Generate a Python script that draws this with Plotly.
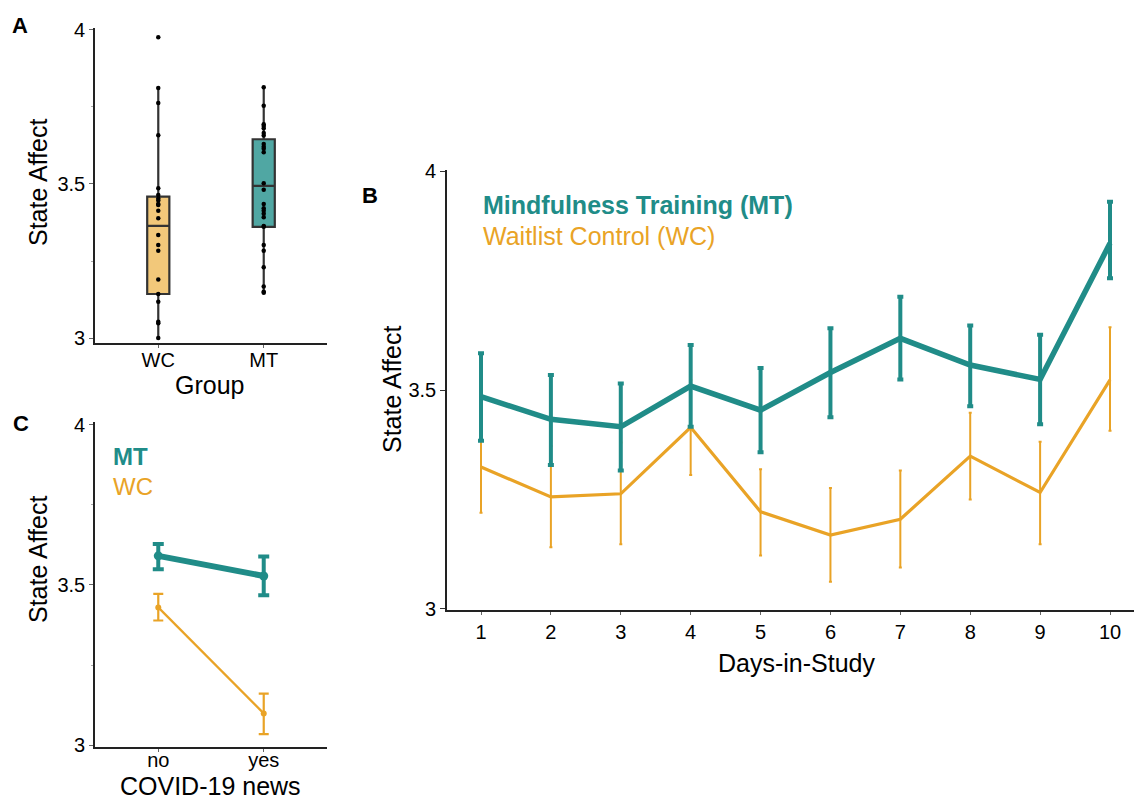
import plotly.graph_objects as go

# ---------------- data ----------------
groups = ["WC", "MT"]
wc_points = [3.976, 3.811, 3.763, 3.658, 3.486, 3.464, 3.453, 3.446, 3.435, 3.432, 3.413,
             3.389, 3.334, 3.302, 3.283, 3.19, 3.143, 3.118, 3.053, 3.048, 3.0]
mt_points = [3.814, 3.754, 3.694, 3.688, 3.681, 3.665, 3.657, 3.630, 3.621, 3.614, 3.603,
             3.502, 3.481, 3.435, 3.421, 3.413, 3.403, 3.392, 3.364, 3.361, 3.302, 3.283,
             3.23, 3.167, 3.150, 3.147]
# box stats: lowerfence, q1, median, q3, upperfence
wc_box = [3.0, 3.143, 3.364, 3.459, 3.811]
mt_box = [3.147, 3.361, 3.494, 3.645, 3.814]

days = [1, 2, 3, 4, 5, 6, 7, 8, 9, 10]
mt_mean = [3.485, 3.433, 3.416, 3.509, 3.454, 3.540, 3.618, 3.557, 3.524, 3.835]
mt_hi = [3.584, 3.534, 3.515, 3.603, 3.550, 3.641, 3.713, 3.647, 3.626, 3.930]
mt_lo = [3.384, 3.329, 3.316, 3.416, 3.358, 3.438, 3.524, 3.463, 3.422, 3.755]
wc_mean = [3.324, 3.256, 3.263, 3.415, 3.222, 3.169, 3.205, 3.349, 3.266, 3.523]
wc_hi = [3.428, 3.372, 3.380, 3.523, 3.319, 3.276, 3.316, 3.448, 3.382, 3.643]
wc_lo = [3.220, 3.141, 3.148, 3.306, 3.122, 3.062, 3.095, 3.250, 3.148, 3.407]

news = ["no", "yes"]
c_mt_mean = [3.591, 3.528]
c_mt_hi = [3.628, 3.589]
c_mt_lo = [3.549, 3.468]
c_wc_mean = [3.430, 3.099]
c_wc_hi = [3.472, 3.161]
c_wc_lo = [3.389, 3.034]

y_ticks = [3, 3.5, 4]
y_ticktext = ["3", "3.5", "4"]

# ---------------- styles ----------------
TEAL = "#208C88"
ORANGE = "#E9A326"
WC_FILL = "#F2C87A"
MT_FILL = "#50A7A3"
FONT = "Liberation Sans, Arial, Helvetica, sans-serif"
W, H = 1134, 801


def px_x(p):
    return p / W


def px_y(p):
    return 1 - p / H


fig = go.Figure()

# ---- Panel A: boxes ----
for g, stats, fill in [("WC", wc_box, WC_FILL), ("MT", mt_box, MT_FILL)]:
    fig.add_trace(go.Box(
        x=[g], lowerfence=[stats[0]], q1=[stats[1]], median=[stats[2]],
        q3=[stats[3]], upperfence=[stats[4]],
        fillcolor=fill, line=dict(color="#333333", width=2.2),
        whiskerwidth=0, width=0.21, boxpoints=False, showlegend=False,
        xaxis="x", yaxis="y", hoverinfo="skip"))
for g, pts in [("WC", wc_points), ("MT", mt_points)]:
    fig.add_trace(go.Scatter(
        x=[g] * len(pts), y=pts, mode="markers",
        marker=dict(color="black", size=4.5), showlegend=False,
        xaxis="x", yaxis="y", hoverinfo="skip"))

# ---- Panel B ----
fig.add_trace(go.Scatter(
    x=days, y=wc_mean, mode="lines", line=dict(color=ORANGE, width=3.2),
    error_y=dict(type="data", symmetric=False,
                 array=[h - m for h, m in zip(wc_hi, wc_mean)],
                 arrayminus=[m - l for m, l in zip(wc_mean, wc_lo)],
                 color=ORANGE, thickness=2, width=1.5),
    showlegend=False, xaxis="x2", yaxis="y2"))
fig.add_trace(go.Scatter(
    x=days, y=mt_mean, mode="lines", line=dict(color=TEAL, width=5.5),
    error_y=dict(type="data", symmetric=False,
                 array=[h - m for h, m in zip(mt_hi, mt_mean)],
                 arrayminus=[m - l for m, l in zip(mt_mean, mt_lo)],
                 color=TEAL, thickness=4, width=3),
    showlegend=False, xaxis="x2", yaxis="y2"))

# ---- Panel C ----
fig.add_trace(go.Scatter(
    x=news, y=c_wc_mean, mode="lines+markers", line=dict(color=ORANGE, width=2.2),
    marker=dict(color=ORANGE, size=6),
    error_y=dict(type="data", symmetric=False,
                 array=[h - m for h, m in zip(c_wc_hi, c_wc_mean)],
                 arrayminus=[m - l for m, l in zip(c_wc_mean, c_wc_lo)],
                 color=ORANGE, thickness=2.2, width=5),
    showlegend=False, xaxis="x3", yaxis="y3"))
fig.add_trace(go.Scatter(
    x=news, y=c_mt_mean, mode="lines+markers", line=dict(color=TEAL, width=6),
    marker=dict(color=TEAL, size=9),
    error_y=dict(type="data", symmetric=False,
                 array=[h - m for h, m in zip(c_mt_hi, c_mt_mean)],
                 arrayminus=[m - l for m, l in zip(c_mt_mean, c_mt_lo)],
                 color=TEAL, thickness=4, width=5.5),
    showlegend=False, xaxis="x3", yaxis="y3"))

axis_common = dict(showline=True, linecolor="#222222", linewidth=1.6, showgrid=False,
                   zeroline=False, ticks="outside", ticklen=3, tickcolor="#666666",
                   tickwidth=1, automargin=False,
                   tickfont=dict(size=20, color="black", family=FONT))

# Panel B x: tick 1 at px 481, tick 10 at px 1110; axis spans px 447 .. right edge
b_step = (1110 - 481) / 9.0
b_left = 1 - (481 - 447) / b_step
b_right = 10 + (W - 1110) / b_step

fig.update_layout(
    width=W, height=H, margin=dict(l=0, r=0, t=0, b=0, autoexpand=False),
    paper_bgcolor="white", plot_bgcolor="white",
    font=dict(family=FONT, color="black"),
    xaxis=dict(domain=[px_x(95), px_x(327)], anchor="y", type="category",
               categoryorder="array", categoryarray=groups, range=[-0.6, 1.6],
               ticklabelstandoff=-5, **axis_common),
    yaxis=dict(domain=[px_y(343), px_y(28)], anchor="x", range=[2.984, 4.006],
               tickvals=y_ticks, ticktext=y_ticktext,
               minor=dict(ticks="outside", dtick=0.25, ticklen=2, tickcolor="#aaaaaa"),
               **axis_common),
    xaxis2=dict(domain=[px_x(447), 1.0], anchor="y2", range=[b_left, b_right],
                tickvals=days, **axis_common),
    yaxis2=dict(domain=[px_y(610), px_y(170)], anchor="x2", range=[2.9977, 4.0023],
                tickvals=y_ticks, ticktext=y_ticktext, **axis_common),
    xaxis3=dict(domain=[px_x(95), px_x(327)], anchor="y3", type="category",
                categoryorder="array", categoryarray=news, range=[-0.6, 1.6],
                ticklabelstandoff=-9, **axis_common),
    yaxis3=dict(domain=[px_y(747), px_y(422)], anchor="x3", range=[2.994, 4.009],
                tickvals=y_ticks, ticktext=y_ticktext,
                minor=dict(ticks="outside", dtick=0.25, ticklen=2, tickcolor="#aaaaaa"),
                **axis_common),
)
fig.update_yaxes(ticklen=4)
fig.update_layout(yaxis2=dict(ticklen=5, tickcolor="#333333"))


def ann(text, x, y, size=25, color="black", bold=False, angle=0, xanchor="center"):
    if bold:
        text = "<b>" + text + "</b>"
    fig.add_annotation(text=text, x=px_x(x), y=px_y(y), xref="paper", yref="paper",
                       showarrow=False, textangle=angle, xanchor=xanchor, yanchor="middle",
                       font=dict(size=size, color=color, family=FONT))


# panel letters
ann("A", 20, 26, size=22, bold=True)
ann("B", 370, 196, size=22, bold=True)
ann("C", 21, 424, size=22, bold=True)

# axis titles
ann("State Affect", 38, 183, angle=-90)
ann("Group", 209, 385)
ann("State Affect", 392, 390, angle=-90)
ann("Days-in-Study", 796, 663)
ann("State Affect", 38, 560, angle=-90)
ann("COVID-19 news", 210, 786)

# legends
ann("Mindfulness Training (MT)", 481, 205, size=25, color=TEAL, bold=True, xanchor="left")
ann("Waitlist Control (WC)", 481, 236, size=25, color=ORANGE, xanchor="left")
ann("MT", 111, 457, size=24, color=TEAL, bold=True, xanchor="left")
ann("WC", 111, 486, size=24, color=ORANGE, xanchor="left")

fig.write_html("out.html", config={"displayModeBar": False},
               post_script="document.body.style.margin='0px';")
